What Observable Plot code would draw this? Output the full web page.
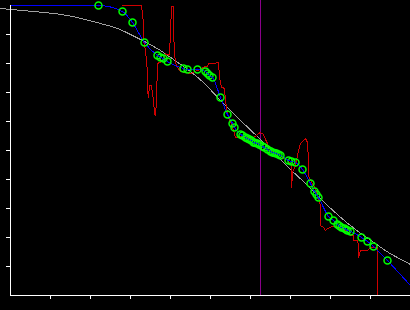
<!DOCTYPE html>
<html><head><meta charset="utf-8">
<script src="https://cdn.jsdelivr.net/npm/d3@7"></script>
<script src="https://cdn.jsdelivr.net/npm/@observablehq/plot@0.6"></script>
<style>html,body{margin:0;padding:0;background:#000;} #chart{width:410px;height:310px;overflow:hidden}</style>
</head><body><div id="chart"></div>
<script>
// Smooth reference curve (grey)
const curveX = [-0.25, 0.025, 0.575, 1.425, 2.25, 2.675, 3.0, 3.35, 3.75, 4.075, 4.5, 4.875, 5.25, 5.7, 6.25, 6.625, 7.0, 7.375, 7.8, 8.2, 8.625, 9.05, 9.45, 10.0];
const curveY = [9.897, 9.862, 9.793, 9.655, 9.379, 9.207, 9.0, 8.759, 8.448, 8.138, 7.724, 7.276, 6.724, 6.103, 5.379, 4.862, 4.345, 3.862, 3.276, 2.759, 2.276, 1.862, 1.483, 1.069];

// Noisy step series (red)
const rawX = [2.8, 3.275, 3.325, 3.325, 3.375, 3.4, 3.425, 3.425, 3.45, 3.475, 3.525, 3.55, 3.575, 3.6, 3.625, 3.65, 3.675, 3.825, 3.875, 3.95, 3.975, 4.0, 4.025, 4.075, 4.075, 4.1, 4.125, 4.175, 4.25, 4.5, 4.675, 4.875, 4.925, 4.95, 5.125, 5.15, 5.2, 5.225, 5.275, 5.325, 5.35, 5.375, 5.45, 5.525, 5.575, 5.625, 5.75, 6.0, 6.125, 6.2, 6.25, 6.325, 6.375, 6.425, 6.5, 6.625, 6.7, 6.8, 6.925, 7.0, 7.025, 7.025, 7.05, 7.05, 7.125, 7.175, 7.2, 7.25, 7.325, 7.375, 7.425, 7.45, 7.45, 7.5, 7.625, 7.7, 7.75, 7.75, 7.825, 7.875, 7.925, 8.05, 8.125, 8.25, 8.45, 8.5, 8.575, 8.575, 8.675, 8.7, 8.7, 8.75, 8.925, 9.0, 9.175, 9.175, 9.3];
const rawY = [10.0, 10.0, 9.379, 8.793, 8.448, 8.103, 7.655, 7.069, 6.828, 7.241, 7.241, 6.966, 6.724, 6.276, 6.207, 6.724, 8.0, 8.103, 8.345, 8.276, 8.345, 9.069, 9.966, 9.966, 9.138, 8.379, 8.034, 7.862, 7.724, 7.655, 7.759, 7.897, 7.897, 8.0, 8.0, 8.034, 8.034, 7.517, 7.172, 7.172, 7.103, 6.724, 6.103, 5.931, 5.69, 5.448, 5.483, 5.414, 5.483, 5.586, 5.621, 5.552, 5.379, 5.241, 5.0, 4.931, 4.897, 4.759, 4.655, 4.552, 4.483, 3.724, 4.138, 4.241, 4.483, 4.828, 5.0, 5.241, 5.345, 5.414, 5.276, 4.655, 4.138, 3.966, 3.69, 3.379, 3.103, 2.414, 2.345, 2.241, 2.31, 2.379, 2.379, 2.31, 2.172, 2.069, 2.069, 1.897, 1.897, 1.724, 1.31, 1.552, 1.552, 1.655, 1.655, 0, 0];

// Sample points (green circles)
const ptX = [2.2, 2.8, 3.05, 3.35, 3.675, 3.75, 3.825, 3.925, 4.325, 4.425, 4.675, 4.875, 4.925, 4.975, 5.05, 5.25, 5.425, 5.55, 5.6, 5.75, 5.8, 5.875, 5.925, 5.975, 6.025, 6.075, 6.125, 6.175, 6.225, 6.3, 6.35, 6.425, 6.5, 6.55, 6.6, 6.65, 6.7, 6.75, 6.95, 7.025, 7.125, 7.3, 7.5, 7.6, 7.65, 7.7, 7.95, 8.075, 8.175, 8.225, 8.275, 8.35, 8.4, 8.425, 8.5, 8.775, 8.925, 9.075, 9.425];
const ptY = [10.0, 9.793, 9.414, 8.724, 8.276, 8.207, 8.172, 8.069, 7.828, 7.793, 7.793, 7.724, 7.655, 7.586, 7.517, 6.828, 6.241, 5.931, 5.793, 5.552, 5.517, 5.448, 5.414, 5.379, 5.345, 5.276, 5.262, 5.241, 5.2, 5.138, 5.1, 5.034, 4.97, 4.931, 4.914, 4.897, 4.862, 4.828, 4.655, 4.621, 4.586, 4.345, 3.862, 3.586, 3.483, 3.379, 2.724, 2.586, 2.448, 2.4, 2.345, 2.31, 2.27, 2.241, 2.207, 2.0, 1.862, 1.69, 1.207];

// Fitted line (blue): starts at left edge, passes the points, runs on past the last one
const fitX = [0.0, ...ptX, 9.7, 10.0];
const fitY = [10.0, ...ptY, 0.793, 0.345];

const markerX = 6.25;
const xTicks = [1, 2, 3, 4, 5, 6, 7, 8, 9];
const yTicks = [1, 2, 3, 4, 5, 6, 7, 8, 9];

const grey = curveX.map((x, i) => ({x, y: curveY[i]}));
const red = rawX.map((x, i) => ({x, y: rawY[i]}));
const pts = ptX.map((x, i) => ({x, y: ptY[i]}));
const blue = fitX.map((x, i) => ({x, y: fitY[i]}));

const crisp = {shapeRendering: "crispEdges"};

const plot = Plot.plot({
  width: 410, height: 310,
  marginLeft: 10, marginRight: 0, marginTop: 0, marginBottom: 15,
  style: {background: "#000", color: "#fff", overflow: "visible"},
  x: {domain: [0, 10]},
  y: {domain: [0, 10], range: [295, 5]},
  marks: [
    Plot.ruleX([markerX], {stroke: "#8a008a", strokeWidth: 1, ...crisp}),
    Plot.line(grey, {x: "x", y: "y", stroke: "#a0a0a0", strokeWidth: 1, curve: "natural", ...crisp}),
    Plot.line(red, {x: "x", y: "y", stroke: "#d00000", strokeWidth: 1, ...crisp}),
    Plot.line(blue, {x: "x", y: "y", stroke: "#0000ff", strokeWidth: 1, curve: "monotone-x", ...crisp}),
    Plot.dot(pts, {x: "x", y: "y", r: 3.5, stroke: "#00ff00", strokeWidth: 1.5}),
    Plot.dot(pts, {x: "x", y: "y", r: 0.8, fill: "#0000ff"}),
    Plot.axisX({ticks: xTicks, tickSize: 4, tickFormat: () => "", stroke: "#fff", label: null, ...crisp}),
    Plot.axisY({ticks: yTicks, tickSize: 4, tickFormat: () => "", stroke: "#fff", label: null, ...crisp}),
    Plot.ruleY([0], {stroke: "#fff", strokeWidth: 1.5, ...crisp}),
    Plot.ruleX([0], {y1: 0, y2: 10, stroke: "#fff", strokeWidth: 1.5, ...crisp})
  ]
});
document.getElementById("chart").appendChild(plot);
</script>
</body></html>
